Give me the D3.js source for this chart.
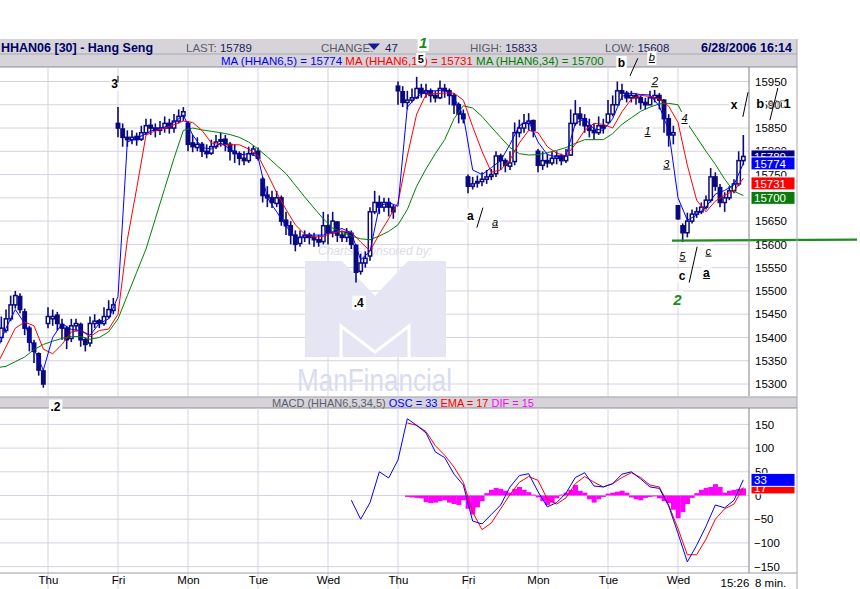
<!DOCTYPE html>
<html>
<head>
<meta charset="utf-8">
<script src="https://cdn.jsdelivr.net/npm/d3@7"></script>
<style>
body { margin: 0; background: #fff; }
svg { display: block; }
text { font-family: "Liberation Sans", Arial, sans-serif; }
</style>
</head>
<body>
<svg width="860" height="589"></svg>
<script>
// day labels on the time axis, placed at the first bar slot of each day
var dayLabels = ["Thu", "Fri", "Mon", "Tue", "Wed", "Thu", "Fri", "Mon", "Tue", "Wed"];
var daySlots = [15, 30, 45, 60, 75, 90, 105, 120, 135, 150];

// price bars, one per slot, starting at slot 5 (15 slots per day)
var firstSlot = 5;
var opens = [
  15400, 15415, 15440, 15470, 15488, 15455, 15420, 15388, 15365, 15328,
  15430, 15440, 15448, 15428, 15420, 15398, 15425, 15428, 15395, 15388, 15430, 15436, 15430, 15445, 15458,
  15860, 15848, 15830, 15825, 15832, 15826, 15840, 15856, 15850, 15845, 15850, 15860, 15850, 15865, 15876,
  15860, 15818, 15808, 15815, 15800, 15796, 15810, 15822, 15826, 15815, 15800, 15795, 15785, 15780, 15795,
  15800, 15740, 15706, 15700, 15688, 15700, 15652, 15640, 15620, 15602, 15615, 15620, 15615, 15610, 15606,
  15640, 15625, 15648, 15620, 15615, 15624, 15598, 15542, 15560, 15575, 15670, 15690, 15680, 15690, 15680,
  15940, 15928, 15905, 15910, 15915, 15935, 15925, 15930, 15920, 15915, 15935, 15930, 15920, 15900, 15880,
  15745, 15725, 15732, 15735, 15740, 15746, 15752, 15790, 15780, 15768, 15778, 15840, 15850, 15860, 15866,
  15800, 15770, 15780, 15775, 15785, 15790, 15780, 15792, 15860, 15880, 15870, 15855, 15845, 15840, 15855,
  15862, 15880, 15900, 15930, 15925, 15915, 15920, 15915, 15905, 15900, 15915, 15920, 15910, 15870, 15835,
  15683, 15640, 15625, 15650, 15665, 15670, 15680, 15695, 15745, 15722, 15690, 15700, 15715, 15730, 15780
];
var highs = [
  15445, 15460, 15490, 15500, 15495, 15462, 15425, 15395, 15368, 15332,
  15465, 15460, 15455, 15440, 15425, 15440, 15440, 15432, 15400, 15445, 15450, 15440, 15465, 15480, 15485,
  15895, 15860, 15845, 15845, 15840, 15855, 15870, 15870, 15860, 15865, 15875, 15870, 15880, 15890, 15895,
  15865, 15835, 15830, 15820, 15815, 15825, 15835, 15840, 15835, 15820, 15815, 15800, 15800, 15810, 15812,
  15808, 15745, 15725, 15715, 15715, 15705, 15670, 15650, 15630, 15630, 15630, 15625, 15625, 15620, 15670,
  15665, 15670, 15650, 15630, 15635, 15630, 15600, 15580, 15585, 15680, 15715, 15705, 15700, 15700, 15685,
  15950, 15940, 15930, 15935, 15960, 15945, 15945, 15935, 15930, 15952, 15945, 15935, 15925, 15905, 15890,
  15750, 15745, 15748, 15755, 15760, 15762, 15800, 15795, 15785, 15800, 15862, 15868, 15880, 15882, 15868,
  15805, 15800, 15795, 15800, 15800, 15795, 15805, 15890, 15910, 15895, 15880, 15870, 15860, 15875, 15870,
  15910, 15920, 15950, 15945, 15930, 15930, 15925, 15920, 15915, 15930, 15932, 15925, 15912, 15880, 15855,
  15683, 15645, 15668, 15675, 15680, 15690, 15705, 15764, 15755, 15730, 15712, 15725, 15740, 15800, 15835
];
var lows = [
  15390, 15410, 15435, 15462, 15452, 15405, 15370, 15345, 15318, 15292,
  15420, 15425, 15415, 15395, 15375, 15390, 15415, 15380, 15370, 15380, 15420, 15420, 15425, 15440, 15450,
  15830, 15810, 15810, 15815, 15812, 15822, 15835, 15835, 15830, 15835, 15840, 15838, 15840, 15860, 15865,
  15800, 15798, 15800, 15788, 15785, 15792, 15805, 15810, 15800, 15780, 15775, 15770, 15770, 15775, 15790,
  15780, 15690, 15680, 15678, 15680, 15640, 15620, 15600, 15585, 15595, 15605, 15600, 15595, 15595, 15600,
  15600, 15615, 15605, 15605, 15605, 15590, 15518, 15535, 15550, 15565, 15665, 15665, 15670, 15660, 15655,
  15900, 15895, 15890, 15905, 15912, 15915, 15915, 15905, 15905, 15912, 15915, 15900, 15880, 15860, 15860,
  15710, 15718, 15722, 15725, 15730, 15738, 15745, 15760, 15755, 15760, 15770, 15830, 15840, 15845, 15830,
  15755, 15760, 15765, 15770, 15772, 15770, 15775, 15790, 15855, 15855, 15840, 15830, 15825, 15835, 15838,
  15860, 15875, 15900, 15910, 15905, 15905, 15900, 15890, 15890, 15900, 15905, 15890, 15840, 15810, 15815,
  15653, 15605, 15615, 15645, 15657, 15665, 15675, 15690, 15715, 15680, 15670, 15695, 15710, 15725, 15770
];
var closes = [
  15420, 15440, 15470, 15490, 15460, 15420, 15390, 15370, 15330, 15300,
  15445, 15445, 15430, 15420, 15395, 15425, 15430, 15395, 15385, 15430, 15435, 15430, 15445, 15460, 15470,
  15850, 15830, 15825, 15830, 15825, 15840, 15855, 15850, 15845, 15850, 15860, 15850, 15865, 15875, 15885,
  15815, 15810, 15815, 15800, 15795, 15810, 15820, 15825, 15815, 15800, 15795, 15785, 15780, 15795, 15805,
  15785, 15705, 15700, 15690, 15700, 15650, 15640, 15620, 15600, 15615, 15620, 15615, 15610, 15605, 15640,
  15625, 15650, 15620, 15615, 15625, 15600, 15540, 15560, 15570, 15670, 15690, 15680, 15690, 15680, 15670,
  15930, 15905, 15910, 15915, 15935, 15925, 15930, 15920, 15915, 15935, 15930, 15920, 15900, 15880, 15870,
  15725, 15730, 15735, 15740, 15745, 15750, 15790, 15780, 15770, 15775, 15840, 15850, 15860, 15865, 15845,
  15770, 15780, 15775, 15785, 15790, 15780, 15790, 15860, 15880, 15870, 15855, 15845, 15840, 15855, 15850,
  15880, 15900, 15930, 15925, 15915, 15920, 15915, 15905, 15900, 15915, 15920, 15910, 15870, 15835, 15840,
  15655, 15625, 15650, 15665, 15670, 15680, 15695, 15745, 15725, 15690, 15700, 15715, 15730, 15780, 15789
];

// moving averages, read every second slot from slot 4 to slot 164
var maFirstSlot = 4;
var ma5 = [
  15370, 15420, 15460, 15430, 15375, 15330, 15400, 15430, 15417, 15415, 15405, 15430, 15440, 15488,
  15820, 15828, 15838, 15848, 15852, 15862, 15878, 15835, 15808, 15805, 15818, 15805, 15792, 15795,
  15788, 15700, 15670, 15640, 15612, 15618, 15620, 15620, 15628, 15634, 15625, 15567, 15585, 15682,
  15690, 15682, 15895, 15917, 15928, 15930, 15932, 15915, 15877, 15760, 15750, 15765, 15780, 15815,
  15855, 15865, 15820, 15793, 15788, 15790, 15860, 15870, 15848, 15845, 15870, 15918, 15925, 15922,
  15921, 15897, 15845, 15700, 15652, 15663, 15680, 15708, 15716, 15728, 15774
];
var ma13 = [
  15340, 15380, 15420, 15433, 15425, 15375, 15365, 15385, 15412, 15415, 15402, 15415, 15418, 15450,
  15610, 15720, 15835, 15844, 15850, 15857, 15865, 15862, 15845, 15818, 15814, 15814, 15814, 15805,
  15790, 15752, 15711, 15675, 15642, 15622, 15616, 15617, 15625, 15628, 15626, 15605, 15586, 15622,
  15655, 15690, 15790, 15880, 15922, 15924, 15925, 15925, 15910, 15853, 15800, 15755, 15760, 15782,
  15818, 15845, 15840, 15810, 15796, 15790, 15815, 15845, 15860, 15858, 15850, 15885, 15912, 15920,
  15918, 15912, 15897, 15862, 15770, 15695, 15670, 15693, 15706, 15715, 15742
];
var ma34 = [
  15335, 15338, 15348, 15358, 15374, 15385, 15392, 15398, 15402, 15402, 15396, 15400, 15412, 15440,
  15490, 15540, 15590, 15655, 15720, 15785, 15845, 15850, 15846, 15843, 15840, 15836, 15830, 15820,
  15805, 15788, 15770, 15752, 15727, 15702, 15678, 15655, 15635, 15626, 15618, 15612, 15610, 15618,
  15628, 15642, 15675, 15725, 15762, 15795, 15825, 15870, 15898, 15893, 15875, 15852, 15830, 15808,
  15795, 15792, 15793, 15797, 15802, 15808, 15817, 15825, 15825, 15825, 15838, 15858, 15872, 15886,
  15895, 15902, 15903, 15900, 15860, 15830, 15800, 15772, 15740, 15714, 15705
];

// MACD (5,34,5): oscillator from slot 80, signal EMA from slot 92 (every second slot)
var oscFirstSlot = 80;
var osc = [
  -10, -50, -15, 50, 37, 75, 162, 148, 132, 92, 80, 45, 22, -54, -60, -40, -20, 18, 42, 46, 8, -24,
  -15, 5, 38, 48, 20, 18, 25, 45, 50, 35, 18, 15, -22, -80, -140, -105, -65, -20, -26, -10, 33
];
var emaFirstSlot = 92;
var ema = [
  153, 148, 135, 105, 85, 60, 28, -35, -72, -58, -28, 2, 28, 40, 32, -8, -18, -5, 25,
  40, 28, 18, 25, 38, 48, 38, 22, 18, -20, -70, -125, -125, -92, -50, -28, -18, 17
];
// difference histogram, one value per slot from slot 92
var difFirstSlot = 92;
var dif = [
  -3, -4, -5, -6, -14, -16, -15, -12, -10, -15, -18, -20, -10, -28, -40, -25, -12, 5, 12, 16,
  14, 10, 6, 14, 18, 12, 7, 2, -4, -12, -20, -15, -6, 2, 6, 12, 22, 10, 6, -8, -15, -8, -3,
  4, 6, 8, 10, 6, -4, -8, -10, -5, -3, -2, -6, -12, -16, -30, -48, -35, -18, -5, 5, 12, 16,
  18, 24, 18, 6, 10, 12, 14, 15
];

var priceTicks = [15950, 15900, 15850, 15800, 15750, 15700, 15650, 15600, 15550, 15500, 15450, 15400, 15350, 15300];
var macdTicks = [150, 100, 50, 0, -50, -100, -150];
var lastPrices = [
  { v: 15789, c: "#000080" },
  { v: 15774, c: "#0000ff" },
  { v: 15731, c: "#ff0000" },
  { v: 15700, c: "#0a7a0a" }
];
var lastMacd = [
  { v: 17, c: "#ff0000" },
  { v: 33, c: "#0000ff" }
];
var supportLevel = 15608;

var svg = d3.select("svg");
var plotRight = 749, panelRight = 797;
var pTop = 67, pBottom = 396, mTop = 408, mBottom = 573;

var x = d3.scaleLinear().domain([15, 150]).range([48, 678]);
var y = d3.scaleLinear().domain([15300, 15950]).range([384, 81.5]);
var ym = d3.scaleLinear().domain([-150, 150]).range([566.6, 424.4]);

var defs = svg.append("defs");
defs.append("clipPath").attr("id", "clipP").append("rect")
  .attr("x", 0).attr("y", pTop).attr("width", plotRight).attr("height", pBottom - pTop);
defs.append("clipPath").attr("id", "clipM").append("rect")
  .attr("x", 0).attr("y", mTop).attr("width", plotRight).attr("height", mBottom - mTop);

// header bands
var band = "#d6d4d9";
svg.append("rect").attr("x", 0).attr("y", 39).attr("width", panelRight).attr("height", 28).attr("fill", band);
svg.append("line").attr("x1", 0).attr("x2", panelRight).attr("y1", 54).attr("y2", 54).attr("stroke", "#a8a8b0");
svg.append("line").attr("x1", 0).attr("x2", panelRight).attr("y1", 67).attr("y2", 67).attr("stroke", "#8c8c94");
svg.append("rect").attr("x", 0).attr("y", 396.5).attr("width", panelRight).attr("height", 11.5).attr("fill", band);
svg.append("line").attr("x1", 0).attr("x2", panelRight).attr("y1", 397).attr("y2", 397).attr("stroke", "#a8a8b0");
svg.append("line").attr("x1", 0).attr("x2", panelRight).attr("y1", 408).attr("y2", 408).attr("stroke", "#8c8c94");

// grid
var gridColor = "#d6d2e2";
var grid = svg.append("g");
grid.selectAll(".hp").data(priceTicks).enter().append("line")
  .attr("x1", 0).attr("x2", plotRight).attr("y1", function(d) { return y(d); }).attr("y2", function(d) { return y(d); })
  .attr("stroke", gridColor);
grid.selectAll(".hm").data(macdTicks).enter().append("line")
  .attr("x1", 0).attr("x2", plotRight).attr("y1", function(d) { return ym(d); }).attr("y2", function(d) { return ym(d); })
  .attr("stroke", gridColor);
grid.selectAll(".vp").data(daySlots).enter().append("line")
  .attr("x1", function(d) { return x(d); }).attr("x2", function(d) { return x(d); })
  .attr("y1", pTop).attr("y2", pBottom).attr("stroke", gridColor);
grid.selectAll(".vm").data(daySlots).enter().append("line")
  .attr("x1", function(d) { return x(d); }).attr("x2", function(d) { return x(d); })
  .attr("y1", mTop).attr("y2", 589).attr("stroke", gridColor);

// sponsor watermark
var wm = svg.append("g");
wm.append("text").attr("x", 318).attr("y", 255).attr("font-size", 13).attr("font-style", "italic")
  .attr("fill", "#dcdce4").attr("textLength", 114).attr("lengthAdjust", "spacingAndGlyphs")
  .text("Charts sponsored by:");
wm.append("path").attr("d", "M305 261 H342 L375 296 L408 261 H446 V357 H305 Z").attr("fill", "#e6e5f4");
wm.append("polyline").attr("points", "341,357 341,326 375,352 409,326 409,357")
  .attr("fill", "none").attr("stroke", "#fff").attr("stroke-width", 3);
wm.append("text").attr("x", 297).attr("y", 391).attr("font-size", 32)
  .attr("fill", "#d9dcf0").attr("textLength", 155).attr("lengthAdjust", "spacingAndGlyphs")
  .text("ManFinancial");

// price bars
var navy = "#0a0a7c";
var bars = d3.range(closes.length).map(function(i) {
  return { s: firstSlot + i, o: opens[i], h: highs[i], l: lows[i], c: closes[i] };
});
var gp = svg.append("g").attr("clip-path", "url(#clipP)");
gp.selectAll(".wick").data(bars).enter().append("line")
  .attr("x1", function(d) { return x(d.s); }).attr("x2", function(d) { return x(d.s); })
  .attr("y1", function(d) { return y(d.h); }).attr("y2", function(d) { return y(d.l); })
  .attr("stroke", navy).attr("stroke-width", 1.6);
gp.selectAll(".body").data(bars).enter().append("rect")
  .attr("x", function(d) { return x(d.s) - 1.7; })
  .attr("width", 3.4)
  .attr("y", function(d) { return y(Math.max(d.o, d.c)); })
  .attr("height", function(d) { return Math.max(1.5, Math.abs(y(d.o) - y(d.c))); })
  .attr("fill", function(d) { return d.c < d.o ? navy : "#fff"; })
  .attr("stroke", navy).attr("stroke-width", 1.5);

// moving averages
function maLine(arr) {
  return d3.line()
    .x(function(d, i) { return x(maFirstSlot + 2 * i); })
    .y(function(d) { return y(d); })(arr);
}
gp.append("path").attr("d", maLine(ma34)).attr("fill", "none").attr("stroke", "#008000").attr("stroke-width", 1);
gp.append("path").attr("d", maLine(ma13)).attr("fill", "none").attr("stroke", "#ff0000").attr("stroke-width", 1);
gp.append("path").attr("d", maLine(ma5)).attr("fill", "none").attr("stroke", "#0000ff").attr("stroke-width", 1);

// support line across the low
svg.append("line").attr("x1", x(148.7)).attr("x2", 857)
  .attr("y1", y(supportLevel)).attr("y2", y(supportLevel) - 1)
  .attr("stroke", "#1e8c1e").attr("stroke-width", 2.2);

// MACD pane
var gm = svg.append("g").attr("clip-path", "url(#clipM)");
var step = x(16) - x(15);
gm.selectAll(".dif").data(dif).enter().append("rect")
  .attr("x", function(d, i) { return x(difFirstSlot + i) - step / 2; })
  .attr("width", step + 0.3)
  .attr("y", function(d) { return ym(Math.max(d, 0)); })
  .attr("height", function(d) { return Math.abs(ym(d) - ym(0)); })
  .attr("fill", "#ff00ff");
var oscLine = d3.line().x(function(d, i) { return x(oscFirstSlot + 2 * i); }).y(function(d) { return ym(d); });
var emaLine = d3.line().x(function(d, i) { return x(emaFirstSlot + 2 * i); }).y(function(d) { return ym(d); });
gm.append("path").attr("d", emaLine(ema)).attr("fill", "none").attr("stroke", "#ff0000").attr("stroke-width", 1);
gm.append("path").attr("d", oscLine(osc)).attr("fill", "none").attr("stroke", "#0000ff").attr("stroke-width", 1);

// frame lines
svg.append("line").attr("x1", plotRight).attr("x2", plotRight).attr("y1", pTop).attr("y2", pBottom).attr("stroke", "#808088");
svg.append("line").attr("x1", plotRight).attr("x2", plotRight).attr("y1", mTop).attr("y2", mBottom).attr("stroke", "#808088");
svg.append("line").attr("x1", 0).attr("x2", panelRight).attr("y1", mBottom).attr("y2", mBottom).attr("stroke", "#9c9ca4");
svg.append("line").attr("x1", panelRight).attr("x2", panelRight).attr("y1", 39).attr("y2", 589).attr("stroke", "#a8a8b0");

// y axes
var gy = svg.append("g").attr("transform", "translate(" + (plotRight + 4) + ",0)")
  .call(d3.axisRight(y).tickValues(priceTicks).tickSize(0).tickPadding(2).tickFormat(d3.format("d")));
var gy2 = svg.append("g").attr("transform", "translate(" + (plotRight + 4) + ",0)")
  .call(d3.axisRight(ym).tickValues(macdTicks).tickSize(0).tickPadding(2).tickFormat(d3.format("d")));
[gy, gy2].forEach(function(g) {
  g.select(".domain").remove();
  g.selectAll("text").attr("font-size", 11.5).attr("fill", "#000")
    .attr("font-family", "'Liberation Sans', Arial, sans-serif");
});
gy2.selectAll("text").filter(function(d) { return d < 0; }).attr("dx", -1);

// last-value boxes
function valueBoxes(list, scale) {
  list.forEach(function(d) {
    var cy = scale(d.v);
    svg.append("rect").attr("x", 751).attr("y", cy - 6.5).attr("width", 44).attr("height", 13)
      .attr("fill", d.c).attr("stroke", "#fff").attr("stroke-width", 1);
    svg.append("text").attr("x", 754).attr("y", cy + 4.5).attr("font-size", 11.5)
      .attr("fill", "#fff").text(d.v);
  });
}
valueBoxes(lastPrices, y);
valueBoxes(lastMacd, ym);

// x axis
var gx = svg.append("g").attr("transform", "translate(0," + 576 + ")")
  .call(d3.axisBottom(x).tickValues(daySlots).tickSize(0).tickPadding(0)
    .tickFormat(function(d, i) { return dayLabels[i]; }));
gx.select(".domain").remove();
gx.selectAll("text").attr("font-size", 11.5).attr("fill", "#000").attr("dy", "0.71em")
  .attr("font-family", "'Liberation Sans', Arial, sans-serif");
svg.append("text").attr("x", x(162.2)).attr("y", 587).attr("text-anchor", "middle").attr("font-size", 11.5).text("15:26");
svg.append("text").attr("x", 755).attr("y", 587).attr("font-size", 11.5).text("8 min.");

// header text
var hdr = svg.append("g").attr("font-size", 11.5);
hdr.append("text").attr("x", 1).attr("y", 52).attr("font-size", 12.5).attr("font-weight", "bold")
  .attr("fill", "#000066").text("HHAN06 [30] - Hang Seng");
function labelVal(xp, label, val) {
  var t = hdr.append("text").attr("x", xp).attr("y", 51.5);
  t.append("tspan").attr("fill", "#5c5c6c").text(label + " ");
  t.append("tspan").attr("fill", "#1c1c5c").text(val);
}
labelVal(186, "LAST:", "15789");
labelVal(470, "HIGH:", "15833");
labelVal(605, "LOW:", "15608");
hdr.append("text").attr("x", 321).attr("y", 51.5).attr("fill", "#5c5c6c").text("CHANGE:");
hdr.append("path").attr("d", "M368 43.5 H380 L374 50 Z").attr("fill", "#1a1a8c");
hdr.append("text").attr("x", 385).attr("y", 51.5).attr("fill", "#1c1c5c").text("47");
hdr.append("text").attr("x", 792).attr("y", 52).attr("text-anchor", "end").attr("font-size", 12.5)
  .attr("font-weight", "bold").attr("fill", "#000066").text("6/28/2006 16:14");

var leg = hdr.append("text").attr("x", 221).attr("y", 64.5).attr("font-size", 11.5);
leg.append("tspan").attr("fill", "#0000ff").text("MA (HHAN6,5) = 15774 ");
leg.append("tspan").attr("fill", "#ff0000").text("MA (HHAN6,13) = 15731 ");
leg.append("tspan").attr("fill", "#008000").text("MA (HHAN6,34) = 15700");

var mleg = hdr.append("text").attr("x", 272).attr("y", 406.5).attr("font-size", 11);
mleg.append("tspan").attr("fill", "#5c5c6c").text("MACD (HHAN6,5,34,5) ");
mleg.append("tspan").attr("fill", "#0000ff").text("OSC = 33 ");
mleg.append("tspan").attr("fill", "#ff0000").text("EMA = 17 ");
mleg.append("tspan").attr("fill", "#ff00ff").text("DIF = 15");

// wave annotations, anchored on slot and price
var notes = [
  { s: 29.25, p: 15936, t: "3", bold: 1 },
  { s: 16.6, p: 15243, t: ".2", bold: 1 },
  { s: 81.6, p: 15466, t: ".4", bold: 1 },
  { s: 95.4, p: 16022, t: "1", bold: 1, italic: 1, size: 15, color: "#1a8a1a" },
  { s: 94.9, p: 15990, t: "5", bold: 1, size: 11 },
  { s: 137.9, p: 15981, t: "b", bold: 1 },
  { s: 144.4, p: 15994, t: "b", italic: 1, ul: 1, size: 11 },
  { s: 145.1, p: 15942, t: "2", italic: 1, ul: 1, size: 11 },
  { s: 143.5, p: 15835, t: "1", italic: 1, ul: 1, size: 11 },
  { s: 147.5, p: 15765, t: "3", italic: 1, ul: 1, size: 11 },
  { s: 151.4, p: 15863, t: "4", italic: 1, ul: 1, size: 11 },
  { s: 162, p: 15891, t: "x", bold: 1 },
  { s: 167.6, p: 15893, t: "b", bold: 1, size: 13 },
  { s: 173.4, p: 15893, t: "1", bold: 1, size: 13 },
  { s: 105.5, p: 15653, t: "a", bold: 1 },
  { s: 110.8, p: 15640, t: "a", italic: 1, ul: 1, size: 11 },
  { s: 150.9, p: 15567, t: "5", italic: 1, ul: 1, size: 11 },
  { s: 156.5, p: 15578, t: "c", italic: 1, ul: 1, size: 11 },
  { s: 150.9, p: 15524, t: "c", bold: 1 },
  { s: 156.1, p: 15530, t: "a", bold: 1, ul: 1 },
  { s: 149.9, p: 15470, t: "2", bold: 1, italic: 1, size: 15, color: "#1a8a1a" }
];
var slashes = [
  [141.4, 16000, 139.7, 15962],
  [165, 15927, 163.9, 15874],
  [171.4, 15936, 169.7, 15867],
  [108.2, 15679, 106.9, 15636],
  [154.1, 15595, 152.4, 15518],
  [30, 15962, 30, 15948]
];
var ann = svg.append("g");
notes.forEach(function(d) {
  var g = ann.append("g");
  var t = g.append("text").attr("x", x(d.s)).attr("y", y(d.p)).attr("text-anchor", "middle")
    .attr("font-size", d.size || 12).attr("font-weight", d.bold ? "bold" : "normal")
    .attr("font-style", d.italic ? "italic" : "normal").attr("fill", d.color || "#000").text(d.t);
  var b = t.node().getBBox();
  g.insert("rect", "text").attr("x", b.x - 1.5).attr("y", b.y).attr("width", b.width + 3)
    .attr("height", b.height + (d.ul ? 2 : 0)).attr("fill", "#fff");
  if (d.ul) {
    g.append("line").attr("x1", b.x).attr("x2", b.x + b.width)
      .attr("y1", y(d.p) + 1.5).attr("y2", y(d.p) + 1.5).attr("stroke", "#000").attr("stroke-width", 1);
  }
});
ann.append("text").attr("x", x(171.2)).attr("y", y(15893)).attr("text-anchor", "middle")
  .attr("font-size", 10).attr("fill", "#8a8a8a").text("30C");
ann.selectAll(".slash").data(slashes).enter().append("line")
  .attr("x1", function(d) { return x(d[0]); }).attr("y1", function(d) { return y(d[1]); })
  .attr("x2", function(d) { return x(d[2]); }).attr("y2", function(d) { return y(d[3]); })
  .attr("stroke", "#000").attr("stroke-width", 1);
</script>
</body>
</html>
